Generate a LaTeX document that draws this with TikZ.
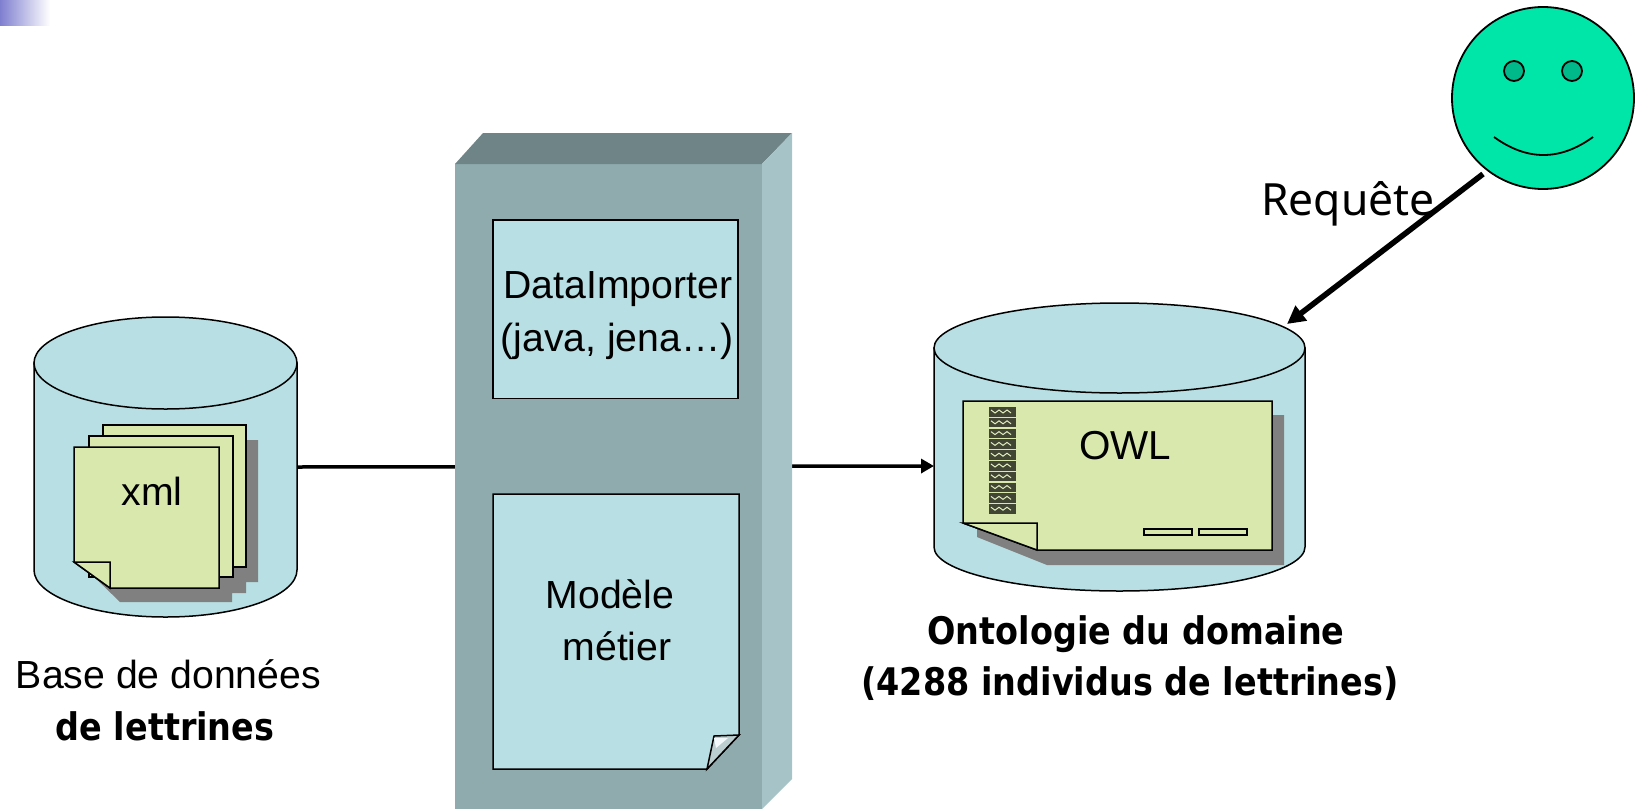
\documentclass[tikz,border=0pt]{standalone}
\usepackage{fontspec}
\setmainfont{Liberation Sans}
\newfontfamily\tahomalike{Noto Sans}
\newfontfamily\tahomabold[FakeStretch=0.88]{DejaVu Sans Bold}
\usetikzlibrary{arrows.meta}
\definecolor{dbfill}{HTML}{B8DFE3}
\definecolor{pagefill}{HTML}{D9E9AE}
\definecolor{shadowgrey}{HTML}{808080}
\definecolor{blockfront}{HTML}{90ABAE}
\definecolor{blocktop}{HTML}{6F8487}
\definecolor{blockside}{HTML}{A6C4C8}
\definecolor{smileyfill}{HTML}{00E6A8}
\definecolor{eyefill}{HTML}{00B98A}
\definecolor{cornerblue}{HTML}{7F7FD0}
\tikzset{
  outline/.style={draw=black,line width=0.75pt},
  dbshape/.style={outline,fill=dbfill},
  pageshape/.style={outline,fill=pagefill,line join=miter},
  lbl/.style={inner sep=0pt,anchor=base,font=\fontsize{19.6}{23}\selectfont},
  lblbold/.style={inner sep=0pt,anchor=base,font=\tahomabold\fontsize{19}{23}\selectfont},
  connector/.style={draw=black,line width=1.75pt},
}
\begin{document}
\begin{tikzpicture}[x=0.5pt,y=-0.5pt]
\useasboundingbox (0,0) rectangle (1643,809);
\fill[left color=cornerblue,right color=white] (0,0) rectangle (50,25);

% anchors of the connectors
\coordinate (dbleftE) at (297,467);
\coordinate (dbrightW) at (934,466);
\coordinate (dbrightTop) at (1287,324);
\coordinate (userFoot) at (1483,174);

% connector running behind the middle block
\draw[connector,-{Triangle[length=6.5pt,width=7pt]}] (dbleftE) -- (dbrightW);

% left cylinder
\path[dbshape] (34,363) -- (34,570) arc[start angle=180,end angle=0,x radius=131.5,y radius=47] -- (297,363) -- cycle;
\path[dbshape] (165.5,363) ellipse[x radius=131.5,y radius=46];
% left pages
\fill[shadowgrey] (120,602) -- (85,568) -- (100,440) -- (258,440) -- (258,582) -- (246,582) -- (246,593) -- (232,593) -- (232,602) -- cycle;
\path[pageshape] (103,425) rectangle (246,567);
\path[pageshape] (89,436) rectangle (233,577);
\path[pageshape] (74,447) -- (219,447) -- (219,588) -- (110,588) -- (74,562) -- cycle;
\path[pageshape] (74,562) -- (110,562) -- (110,588) -- cycle;
\node[lbl] (xmlt) at (152,505) {xml};

% middle block
\fill[blockfront] (455,164) rectangle (762,809);
\fill[blocktop] (455,164) -- (483,133) -- (792,133) -- (762,164) -- cycle;
\fill[blockside] (762,164) -- (792,133) -- (792,779) -- (762,809) -- cycle;
\path[dbshape] (493,220) rectangle (738,398.5);
\node[lbl] (di) at (618,298) {DataImporter};
\node[lbl] (dj) at (617,351) {(java, jena…)};
\path[dbshape] (493,494) -- (739,494) -- (739,735) -- (707,769) -- (493,769) -- cycle;
\path[outline,fill=dbfill!60!gray!70!white] (707,769) -- (714,736) -- (739,735) -- cycle;
\fill[white!85!dbfill] (714,738) -- (728,738) -- (716,748) -- cycle;
\node[lbl] (mo) at (610,608) {Modèle};
\node[lbl] (me) at (617,660) {métier};

% right cylinder
\path[dbshape] (934,348) -- (934,547) arc[start angle=180,end angle=0,x radius=185.5,y radius=44] -- (1305,348) -- cycle;
\path[dbshape] (1119.5,348) ellipse[x radius=185.5,y radius=45];
% OWL page
\fill[shadowgrey] (1047,565) -- (977,537) -- (977,500) -- (1260,415) -- (1284,415) -- (1284,565) -- cycle;
\path[pageshape] (963,401) -- (1272,401) -- (1272,550) -- (1037,550) -- (963,523) -- cycle;
\path[pageshape] (963,523) -- (1037,523) -- (1037,550) -- cycle;
\foreach \r in {0,...,9}{
  \fill[black!70!pagefill] (989,407+10.8*\r) rectangle (1016,416.5+10.8*\r);
  \draw[pagefill!80!white,line width=0.5pt]
    (991,410+10.8*\r) -- (995,413+10.8*\r) -- (999,410+10.8*\r) -- (1003,413+10.8*\r) -- (1007,410+10.8*\r) -- (1011,413+10.8*\r);
}
\path[outline,fill=pagefill] (1144,529) rectangle (1192,535);
\path[outline,fill=pagefill] (1199,529) rectangle (1247,535);
\node[lbl,font=\fontsize{20.2}{23}\selectfont] (owl) at (1125,459) {OWL};

% labels
\node[lbl] (base) at (168.5,688) {Base de données};
\node[lblbold] (lettr) at (165,740) {de lettrines};
\node[lblbold] (onto) at (1136,644) {Ontologie du domaine};
\node[lblbold] (indiv) at (1130,695) {(4288 individus de lettrines)};

% user
\node[circle,draw=black,line width=0.9pt,fill=smileyfill,minimum size=91pt,inner sep=0pt] (user) at (1543,98) {};
\node[circle,draw=black,line width=0.9pt,fill=eyefill,minimum size=10pt,inner sep=0pt] (eyeL) at (1514,71) {};
\node[circle,draw=black,line width=0.9pt,fill=eyefill,minimum size=10pt,inner sep=0pt] (eyeR) at (1572,71) {};
\draw[black,line width=0.9pt] (1494,137) .. controls (1527,161) and (1560,161) .. (1593,137);
\node[inner sep=0pt,anchor=base,font=\tahomalike\fontsize{22.2}{26}\selectfont] (req) at (1348,215) {Requête};
\draw[black,line width=2.8pt,-{Triangle[length=9pt,width=9pt]}] (userFoot) -- (dbrightTop);
\end{tikzpicture}
\end{document}
